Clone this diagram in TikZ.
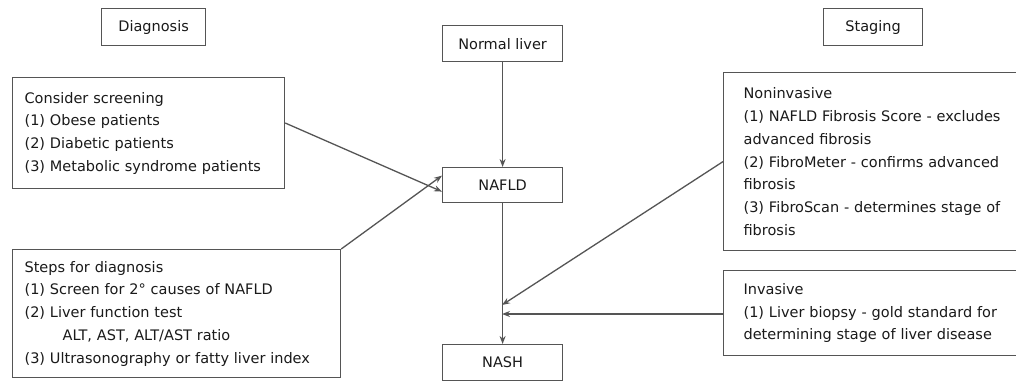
\documentclass[tikz,border=0pt]{standalone}
\usepackage{fontspec}
\setmainfont{DejaVu Sans}
\usetikzlibrary{arrows.meta}
\definecolor{boxline}{HTML}{555555}
\definecolor{txt}{HTML}{1A1A1A}
\tikzset{
  box/.style={draw=boxline, line width=1.2pt, text=txt, inner sep=0pt,
    font=\fontsize{14.5}{22.7}\selectfont},
  lbox/.style={box, anchor=north west, align=left, inner xsep=12pt},
  rbox/.style={box, anchor=north west, align=left, inner xsep=20pt},
  conn/.style={draw=boxline, line width=1.3pt, -{Stealth[length=8pt,width=6pt]}}
}
\begin{document}
\begin{tikzpicture}[x=1pt,y=-1pt]
\clip (0,0) rectangle (1016,381);
\fill[white] (0,0) rectangle (1016,381);
% title boxes
\node[box, anchor=north west, minimum width=104pt, minimum height=37pt] (diag) at (101,8) {Diagnosis};
\node[box, anchor=north west, minimum width=99pt, minimum height=37pt] (stag) at (823,8) {Staging};
% central column
\node[box, anchor=north west, minimum width=120pt, minimum height=36pt] (normal) at (442,25) {Normal liver};
\node[box, anchor=north west, minimum width=120pt, minimum height=35pt] (nafld) at (442,167) {NAFLD};
\node[box, anchor=north west, minimum width=120pt, minimum height=36pt] (nash) at (442,344) {NASH};
% left boxes
\node[lbox, text width=248pt, minimum height=111pt] (screen) at (12,77)
  {Consider screening\\(1) Obese patients\\(2) Diabetic patients\\(3) Metabolic syndrome patients};
\node[lbox, text width=304pt, minimum height=128pt] (steps) at (12,249)
  {Steps for diagnosis\\(1) Screen for 2° causes of NAFLD\\(2) Liver function test\\\hspace*{38pt}ALT, AST, ALT/AST ratio\\(3) Ultrasonography or fatty liver index};
% right boxes
\node[rbox, text width=300pt, minimum height=178pt] (nonin) at (723,72)
  {Noninvasive\\(1) NAFLD Fibrosis Score - excludes\\advanced fibrosis\\(2) FibroMeter - confirms advanced\\fibrosis\\(3) FibroScan - determines stage of\\fibrosis};
\node[rbox, text width=300pt, minimum height=85pt] (inv) at (723,270)
  {Invasive\\(1) Liver biopsy - gold standard for\\determining stage of liver disease};
% junction points on NAFLD -> NASH line
\coordinate (j1) at (502,305);
\coordinate (j2) at (502,314);
% connectors
\draw[conn] (normal) -- (nafld);
\draw[conn] (nafld) -- (nash);
\draw[conn] (screen.east |- 0,123) -- ([yshift=-6.5pt]nafld.west);
\draw[conn] (steps.north east) -- ([yshift=9.5pt]nafld.west);
\draw[conn] (nonin.west) -- (j1);
\draw[conn] (inv.west |- j2) -- (j2);
\end{tikzpicture}
\end{document}
